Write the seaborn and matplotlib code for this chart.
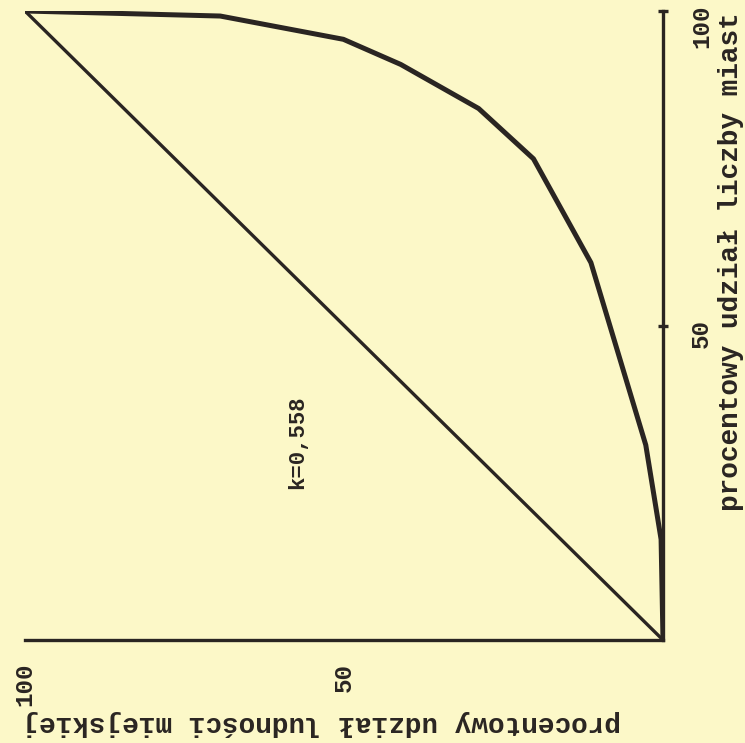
import matplotlib
matplotlib.use("Agg")
import matplotlib.pyplot as plt
import matplotlib.transforms as mtransforms
import seaborn as sns
import pandas as pd

# Data (percent shares)
ludnosc = [0, 0.3, 2.7, 11.3, 20.3, 28.9, 41.1, 50.1, 69.4, 100]   # procentowy udział ludności miejskiej
miasta = [0, 16.0, 31.0, 60.0, 76.5, 84.5, 91.5, 95.5, 99.2, 100]   # procentowy udział liczby miast
rownomierny_x = [0, 100]
rownomierny_y = [0, 100]
x_ticks = [50, 100]
y_ticks = [50, 100]
k_label = "k=0,558"
xlabel = "procentowy udział ludności miejskiej"
ylabel = "procentowy udział liczby miast"

sns.set_theme(style="white")
plt.rcParams["font.family"] = ["Liberation Mono", "DejaVu Sans Mono"]

bg = "#fcf8c8"
ink = "#2a2522"

W, H = 745, 743
fig = plt.figure(figsize=(W / 100, H / 100), dpi=100, facecolor=bg)
left, right, bottom, top = 25, 663, 640, 11
ax = fig.add_axes([left / W, (H - bottom) / H, (right - left) / W, (bottom - top) / H])
ax.set_facecolor(bg)

df = pd.DataFrame({"ludnosc": ludnosc, "miasta": miasta})
sns.lineplot(data=df, x="ludnosc", y="miasta", ax=ax, color=ink, lw=3.6,
             sort=False, estimator=None)
dg = pd.DataFrame({"x": rownomierny_x, "y": rownomierny_y})
sns.lineplot(data=dg, x="x", y="y", ax=ax, color=ink, lw=2.4, sort=False, estimator=None)

ax.set_xlim(100, 0)
ax.set_ylim(0, 100)

for s in ["top", "left"]:
    ax.spines[s].set_visible(False)
for s in ["right", "bottom"]:
    ax.spines[s].set_visible(True)
    ax.spines[s].set_color(ink)
    ax.spines[s].set_linewidth(2.4)

ax.yaxis.tick_right()
ax.set_xticks(x_ticks)
ax.set_yticks(y_ticks)
ax.set_xticklabels([str(v) for v in x_ticks], rotation=90, fontsize=17.5, fontweight="bold", color=ink)
ax.set_yticklabels([str(v) for v in y_ticks], rotation=90, fontsize=17.5, fontweight="bold", color=ink, va="top")
ax.tick_params(axis="both", direction="inout", length=7, width=2.4, color=ink)
ax.tick_params(axis="x", pad=13)
ax.tick_params(axis="y", pad=16)
shift = mtransforms.ScaledTranslation(0, 7 / 100, fig.dpi_scale_trans)
for lab in ax.get_yticklabels():
    lab.set_transform(lab.get_transform() + shift)

ax.set_xlabel(xlabel, rotation=180, fontsize=20, fontweight="bold", color=ink, ha="center", va="center")
ax.xaxis.set_label_coords((322 - left) / (right - left), (bottom - 723) / (bottom - top))
ax.yaxis.set_label_position("right")
ax.set_ylabel(ylabel, rotation=90, fontsize=20, fontweight="bold", color=ink, ha="center", va="center")
ax.yaxis.set_label_coords((731 - left) / (right - left), (bottom - 262) / (bottom - top))

ax.text(57.2, 31.5, k_label, rotation=90, fontsize=16, fontweight="bold", color=ink,
        ha="center", va="center")

fig.savefig("out.png", dpi=100, facecolor=bg)
